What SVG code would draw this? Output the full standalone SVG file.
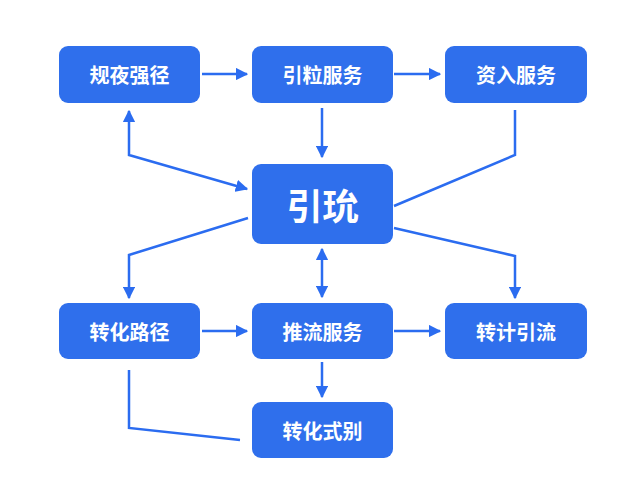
<svg xmlns="http://www.w3.org/2000/svg" width="640" height="480" viewBox="0 0 640 480">
<style>
.box{fill:#2f6fec}
.t{fill:#fff;font-family:"Noto Sans CJK SC",sans-serif;font-weight:bold;font-size:20px;text-anchor:middle;dominant-baseline:central}
.c{fill:none;stroke:#2b6cf0;stroke-width:2.5}
</style>
<defs><marker id="a" viewBox="0 0 10 10" refX="9" refY="5" markerWidth="5" markerHeight="5" orient="auto-start-reverse"><path d="M0,0L10,5L0,10z" fill="#2b6cf0"/></marker></defs>
<rect width="640" height="480" fill="#fff"/>
<g id="connectors">
<path class="c" d="M202,74H247" marker-end="url(#a)"/>
<path class="c" d="M394,74H440" marker-end="url(#a)"/>
<path class="c" d="M322,108V157" marker-end="url(#a)"/>
<path class="c" d="M129,111V155L247,189" marker-start="url(#a)" marker-end="url(#a)"/>
<path class="c" d="M515,110V155L394,206"/>
<path class="c" d="M248,218L129,255V298" marker-end="url(#a)"/>
<path class="c" d="M394,228L515,256V298" marker-end="url(#a)"/>
<path class="c" d="M322,249V297" marker-start="url(#a)" marker-end="url(#a)"/>
<path class="c" d="M202,331H247" marker-end="url(#a)"/>
<path class="c" d="M394,331H440" marker-end="url(#a)"/>
<path class="c" d="M322,362V397" marker-end="url(#a)"/>
<path class="c" d="M129,370V428L240,440"/>
</g>
<g id="n1"><rect class="box" x="59" y="46" width="141" height="57" rx="9"/><text class="t" x="129.5" y="74">规夜强径</text></g>
<g id="n2"><rect class="box" x="252" y="46" width="141" height="57" rx="9"/><text class="t" x="322.5" y="74">引粒服务</text></g>
<g id="n3"><rect class="box" x="445" y="46" width="142" height="57" rx="9"/><text class="t" x="516" y="74">资入服务</text></g>
<g id="n4"><rect class="box" x="252" y="164" width="141" height="80" rx="9"/><text class="t" x="322.5" y="204" style="font-size:36px">引玧</text></g>
<g id="n5"><rect class="box" x="59" y="303" width="141" height="56" rx="9"/><text class="t" x="129.5" y="331">转化路径</text></g>
<g id="n6"><rect class="box" x="252" y="303" width="141" height="56" rx="9"/><text class="t" x="322.5" y="331">推流服务</text></g>
<g id="n7"><rect class="box" x="445" y="303" width="142" height="56" rx="9"/><text class="t" x="516" y="331">转计引流</text></g>
<g id="n8"><rect class="box" x="252" y="402" width="141" height="56" rx="9"/><text class="t" x="322.5" y="430">转化式别</text></g>
</svg>
